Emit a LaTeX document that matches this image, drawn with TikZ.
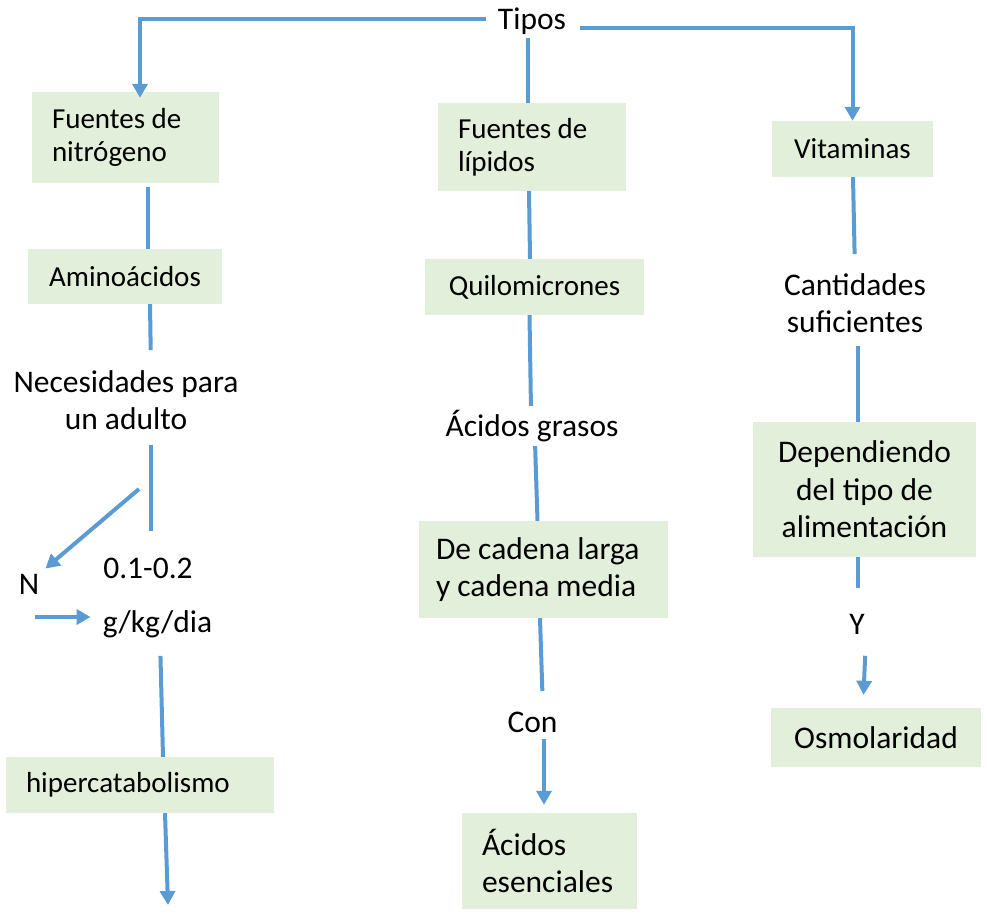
\documentclass[tikz,border=0pt]{standalone}
\usepackage{fontspec}
\setmainfont{Carlito}
\usetikzlibrary{arrows.meta}
\definecolor{verdecaja}{HTML}{E2EFDA}
\definecolor{azullinea}{HTML}{5B9BD5}
\newcommand{\letrachica}{\fontsize{29}{33}\selectfont}
\newcommand{\letragrande}{\fontsize{31.5}{37.5}\selectfont}

\begin{document}
\begin{tikzpicture}[x=1pt, y=-1pt,
		caja/.style={fill=verdecaja, inner sep=0pt, font=\letrachica},
		cajaizq/.style={caja, align=flush left, inner xsep=20pt},
		texto/.style={inner sep=0pt, align=center, font=\letragrande},
		linea/.style={draw=azullinea, line width=4pt},
		flecha/.style={linea, -{Triangle[width=15pt,length=14pt]}}]
		\useasboundingbox (0,0) rectangle (987,915);

		% --- header ---
		\node[texto] (tipos) at (532,21) {Tipos};

		% --- left column: nitrogen sources ---
		\node[cajaizq, text width=147pt, minimum height=91pt] (nitro) at (125.5,137.5) {Fuentes de\\nitrógeno};
		\node[caja, minimum width=194pt, minimum height=55pt] (amino) at (125,276.5) {Aminoácidos};
		\node[texto] (necesidad) at (126,400) {Necesidades para\\un adulto};
		\node[texto] (ene) at (29,584) {N};
		\node[texto] (rango) at (148,568.5) {0.1-0.2};
		\node[texto] (gkg) at (157.5,624) {g/kg/dia};
		\node[cajaizq, text width=228pt, minimum height=56pt] (hiper) at (140,785) {hipercatabolismo};
		\coordinate (necfin) at (151,531);
		\coordinate (bifurca) at (139,489);
		\coordinate (eneflecha) at (35,617);
		\coordinate (hiperfin) at (168,905);

		% --- middle column: lipid sources ---
		\node[cajaizq, text width=148pt, minimum height=88pt] (lipidos) at (532,147) {Fuentes de\\lípidos};
		\node[caja, minimum width=219pt, minimum height=56pt] (quilo) at (534.5,287) {Quilomicrones};
		\node[texto] (acgrasos) at (532,426) {Ácidos grasos};
		\node[cajaizq, font=\letragrande, inner xsep=17pt, text width=215pt, minimum height=97pt] (cadena) at (543.5,569.5) {De cadena larga\\y cadena media};
		\node[texto] (con) at (532.5,722.5) {Con};
		\node[cajaizq, font=\letragrande, text width=135pt, minimum height=96pt] (esencial) at (549.5,861) {Ácidos\\esenciales};

		% --- right column: vitamins ---
		\node[caja, minimum width=161pt, minimum height=56pt] (vitam) at (852.5,149) {Vitaminas};
		\node[texto] (cantidad) at (855,303) {Cantidades\\suficientes};
		\node[caja, font=\letragrande, align=center, minimum width=223pt, minimum height=135pt] (depende) at (864.5,489.5) {Dependiendo\\del tipo de\\alimentación};
		\node[texto] (ye) at (857,624.5) {Y};
		\node[caja, font=\letragrande, minimum width=210pt, minimum height=59pt] (osmo) at (876,737.5) {Osmolaridad};

		% --- connectors from the header ---
		\draw[flecha, shorten <=12pt, shorten >=-6pt] ([yshift=1.5pt]tipos.west) -| ([xshift=14.5pt]nitro.north);
		\draw[linea, shorten <=3pt] ([xshift=-4pt]tipos.south) -- ([xshift=-4pt]lipidos.north);
		\draw[flecha, shorten <=14pt] ([yshift=-7pt]tipos.east) -| (vitam.north);

		% --- left column connectors ---
		\draw[linea, shorten <=4pt] ([xshift=22.5pt]nitro.south) -- ([xshift=23pt]amino.north);
		\draw[linea, shorten >=20pt] ([xshift=25pt]amino.south) -- ([xshift=25pt]necesidad.north);
		\draw[linea, shorten <=15pt] ([xshift=25pt]necesidad.south) -- (necfin);
		\draw[flecha, shorten >=8pt] (bifurca) -- (ene.north east);
		\draw[flecha, shorten >=12pt] (eneflecha) -- (eneflecha -| gkg.west);
		\draw[linea, shorten <=18pt] ([xshift=2.5pt]gkg.south) -- ([xshift=23pt]hiper.north);
		\draw[flecha] ([xshift=25pt]hiper.south) -- (hiperfin);

		% --- middle column connectors ---
		\draw[linea] ([xshift=-3pt]lipidos.south) -- ([xshift=-4.5pt]quilo.north);
		\draw[linea, shorten >=4pt] ([xshift=-5pt]quilo.south) -- ([xshift=-1pt]acgrasos.north);
		\draw[linea, shorten <=4pt] ([xshift=3pt]acgrasos.south) -- ([xshift=-6pt]cadena.north);
		\draw[linea, shorten >=21pt] ([xshift=-3.5pt]cadena.south) -- ([xshift=10.5pt]con.north);
		\draw[flecha, shorten <=6pt, shorten >=8pt] ([xshift=11.5pt]con.south) -- ([xshift=-5.5pt]esencial.north);

		% --- right column connectors ---
		\draw[linea, shorten >=19pt] ([xshift=0.5pt]vitam.south) -- (cantidad.north);
		\draw[linea, shorten <=12.5pt] ([xshift=3pt]cantidad.south) -- ([xshift=-6.5pt]depende.north);
		\draw[linea, shorten >=26pt] ([xshift=-6.5pt]depende.south) -- ([xshift=1pt]ye.north);
		\draw[flecha, shorten <=21pt, shorten >=13pt] ([xshift=9pt]ye.south) -- ([xshift=-13pt]osmo.north);
	\end{tikzpicture}
\end{document}
